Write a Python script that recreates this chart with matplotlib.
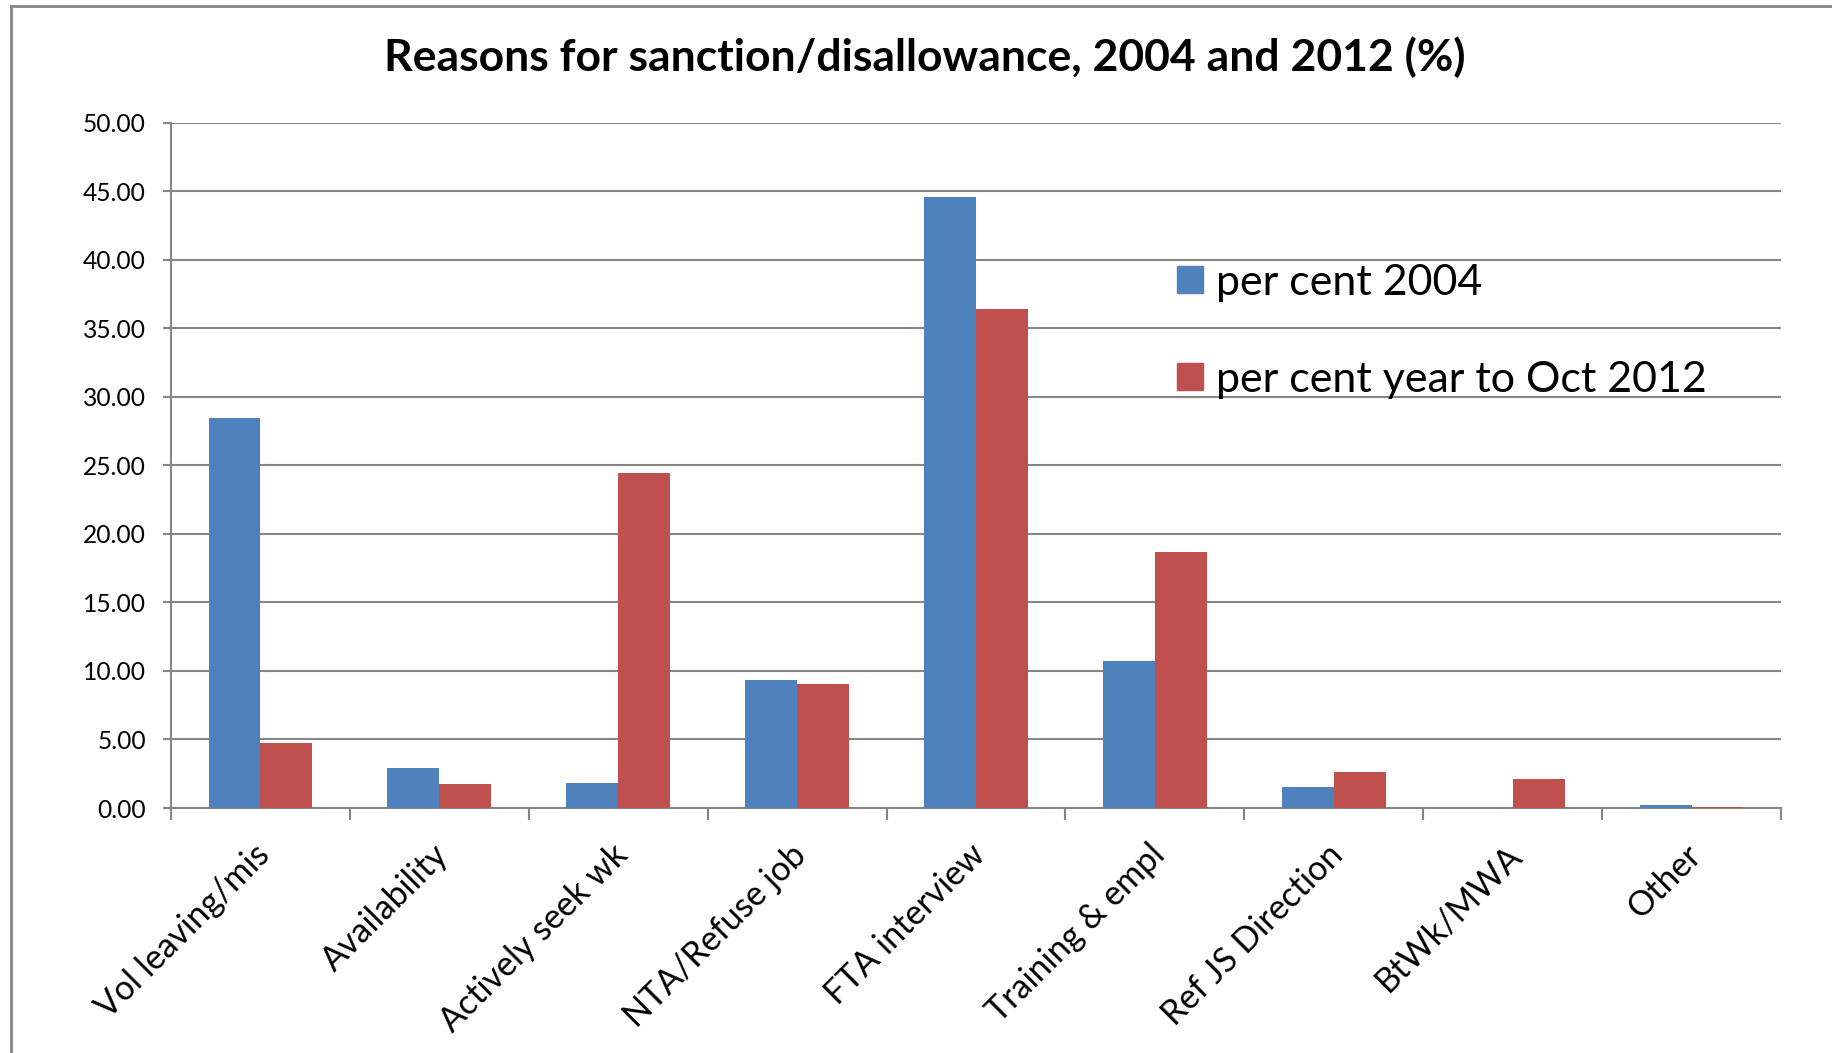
import numpy as np
import matplotlib
matplotlib.use('Agg')
import matplotlib.pyplot as plt
import matplotlib.transforms as mtransforms
from matplotlib.lines import Line2D
from matplotlib.patches import Patch

# Chart data
categories = ['Vol leaving/mis', 'Availability', 'Actively seek wk', 'NTA/Refuse job',
              'FTA interview', 'Training & empl', 'Ref JS Direction', 'BtWk/MWA', 'Other']
pct_2004 = [28.43, 2.95, 1.83, 9.35, 44.55, 10.75, 1.55, 0.0, 0.20]
pct_2012 = [4.75, 1.75, 24.45, 9.02, 36.38, 18.65, 2.60, 2.08, 0.05]
series_labels = ['per cent 2004', 'per cent year to Oct 2012']
title = 'Reasons for sanction/disallowance, 2004 and 2012 (%)'

BLUE = '#4F81BD'
RED = '#C0504D'
GREY = '#868686'
FONT = 'Lato'

plt.rcParams['font.family'] = [FONT, 'DejaVu Sans']

fig = plt.figure(figsize=(18.32, 10.53), dpi=100)
ax = fig.add_axes([171 / 1832, 1 - 808 / 1053, (1781 - 171) / 1832, (808 - 122.6) / 1053])

x = np.arange(len(categories))
w = 0.29
ax.bar(x - w / 2, pct_2004, width=w, color=BLUE, zorder=3)
ax.bar(x + w / 2, pct_2012, width=w, color=RED, zorder=3)

ax.set_xlim(-0.5, len(categories) - 0.5)
ax.set_ylim(0, 50)
ax.set_yticks(np.arange(0, 50.01, 5))
ax.yaxis.set_major_formatter(plt.FuncFormatter(lambda v, p: f'{v:.2f}'))
ax.yaxis.grid(True, color=GREY, linewidth=1.5, zorder=0)
ax.set_axisbelow(True)

# category labels at centres, tick marks at boundaries
ax.set_xticks(x)
ax.set_xticklabels(categories, rotation=45, ha='right', rotation_mode='anchor',
                   fontsize=24.5)
ax.set_xticks(np.arange(-0.5, len(categories)), minor=True)
ax.tick_params(axis='x', which='major', length=0, pad=22)
ax.tick_params(axis='x', which='minor', length=8.5, width=1.5, color=GREY)
ax.tick_params(axis='y', length=6, width=1.5, color=GREY, labelsize=17.7, pad=12)

# nudge the rotated labels a little to the left
shift = mtransforms.ScaledTranslation(-7 / 100, 0, fig.dpi_scale_trans)
for lbl in ax.get_xticklabels():
    lbl.set_transform(lbl.get_transform() + shift)

for s in ['top', 'right']:
    ax.spines[s].set_visible(False)
for s in ['left', 'bottom']:
    ax.spines[s].set_color(GREY)
    ax.spines[s].set_linewidth(1.5)

fig.text(925 / 1832, 1 - 57 / 1053, title, ha='center', va='center',
         fontsize=32, fontweight='bold')

handles = [Patch(color=BLUE), Patch(color=RED)]
leg = fig.legend(handles, series_labels, loc='upper left',
                 bbox_to_anchor=(1177 / 1832, 1 - 264 / 1053),
                 frameon=False, fontsize=31, borderpad=0, borderaxespad=0,
                 handlelength=0.6, handleheight=0.6, handletextpad=0.3,
                 labelspacing=1.36)

# outer chart frame (left and top edges visible)
fig.add_artist(Line2D([11 / 1832, 11 / 1832], [0, 1 - 6 / 1053], color=GREY, lw=2))
fig.add_artist(Line2D([11 / 1832, 1], [1 - 6 / 1053, 1 - 6 / 1053], color=GREY, lw=2))

fig.savefig('out.png', dpi=100)
